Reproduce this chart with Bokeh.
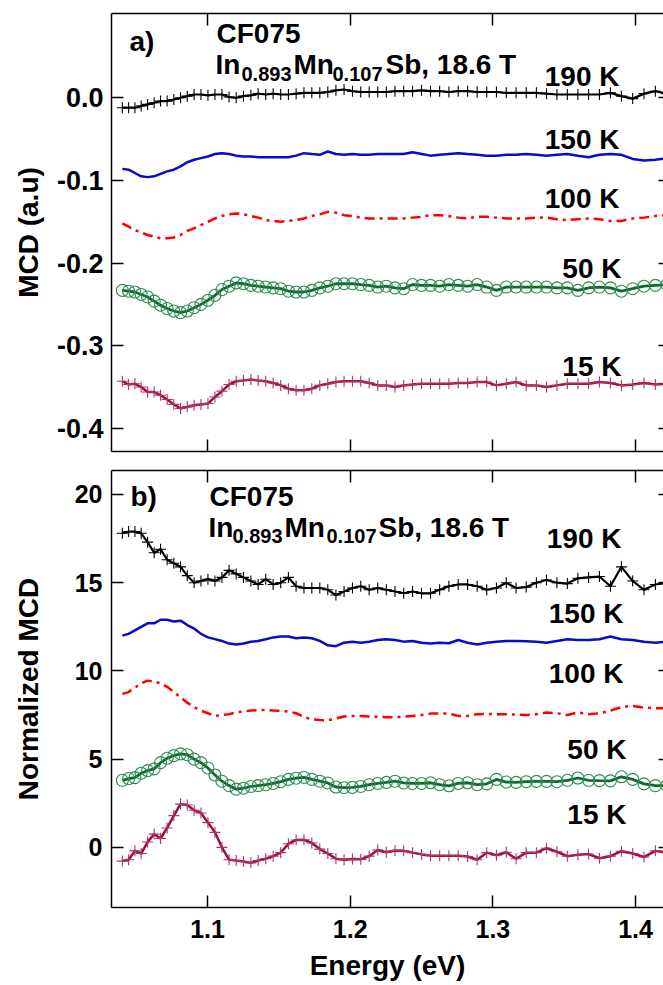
from bokeh.plotting import figure
from bokeh.models import (Range1d, LinearAxis, Label, FixedTicker, NumeralTickFormatter,
                          CustomLabelingPolicy)
from bokeh.layouts import column
from bokeh.embed import file_html
from bokeh.resources import INLINE

# ---------------- data ----------------
energy = [1.0403, 1.0447, 1.0491, 1.0535, 1.0580, 1.0626, 1.0671, 1.0717, 1.0764, 1.0811,
          1.0858, 1.0906, 1.0954, 1.1003, 1.1052, 1.1101, 1.1151, 1.1201, 1.1252, 1.1304,
          1.1355, 1.1408, 1.1460, 1.1513, 1.1567, 1.1621, 1.1676, 1.1731, 1.1787, 1.1843,
          1.1900, 1.1957, 1.2016, 1.2074, 1.2133, 1.2193, 1.2253, 1.2314, 1.2375, 1.2437,
          1.2500, 1.2563, 1.2627, 1.2692, 1.2757, 1.2823, 1.2890, 1.2957, 1.3025, 1.3094,
          1.3163, 1.3234, 1.3305, 1.3376, 1.3449, 1.3522, 1.3596, 1.3671, 1.3747, 1.3824,
          1.3901, 1.3980, 1.4059, 1.4139, 1.4220]

mcd_190 = [-0.012, -0.012, -0.012, -0.010, -0.008, -0.006, -0.004, -0.004, -0.002, 0.000,
           0.002, 0.004, 0.004, 0.003, 0.004, 0.004, 0.001, 0.000, 0.002, 0.003,
           0.005, 0.004, 0.005, 0.004, 0.004, 0.005, 0.006, 0.006, 0.006, 0.007,
           0.009, 0.010, 0.008, 0.007, 0.007, 0.007, 0.007, 0.008, 0.008, 0.008,
           0.009, 0.008, 0.008, 0.007, 0.008, 0.008, 0.007, 0.007, 0.007, 0.006,
           0.006, 0.006, 0.006, 0.005, 0.004, 0.004, 0.004, 0.004, 0.004, 0.006,
           0.002, -0.001, 0.005, 0.008, 0.005]
mcd_150 = [-0.086, -0.087, -0.091, -0.095, -0.096, -0.095, -0.092, -0.089, -0.087, -0.083,
           -0.078, -0.075, -0.073, -0.071, -0.068, -0.067, -0.068, -0.070, -0.071, -0.071,
           -0.072, -0.072, -0.072, -0.072, -0.072, -0.070, -0.067, -0.068, -0.069, -0.065,
           -0.068, -0.069, -0.068, -0.069, -0.069, -0.068, -0.068, -0.068, -0.068, -0.066,
           -0.068, -0.070, -0.069, -0.068, -0.067, -0.068, -0.069, -0.070, -0.070, -0.069,
           -0.069, -0.068, -0.069, -0.070, -0.069, -0.068, -0.070, -0.072, -0.069, -0.068,
           -0.069, -0.074, -0.076, -0.075, -0.073]
mcd_100 = [-0.152, -0.156, -0.160, -0.163, -0.166, -0.168, -0.170, -0.170, -0.169, -0.166,
           -0.161, -0.158, -0.154, -0.150, -0.146, -0.143, -0.141, -0.140, -0.141, -0.143,
           -0.145, -0.148, -0.149, -0.150, -0.149, -0.148, -0.146, -0.143, -0.141, -0.138,
           -0.139, -0.142, -0.143, -0.145, -0.146, -0.146, -0.146, -0.146, -0.146, -0.145,
           -0.144, -0.142, -0.142, -0.143, -0.145, -0.146, -0.144, -0.144, -0.145, -0.146,
           -0.146, -0.146, -0.145, -0.145, -0.147, -0.148, -0.147, -0.146, -0.147, -0.149,
           -0.149, -0.146, -0.145, -0.143, -0.142]
mcd_50 = [-0.233, -0.234, -0.235, -0.238, -0.241, -0.246, -0.251, -0.255, -0.258, -0.260,
          -0.258, -0.254, -0.250, -0.245, -0.239, -0.232, -0.228, -0.224, -0.225, -0.227,
          -0.228, -0.229, -0.230, -0.231, -0.234, -0.235, -0.235, -0.233, -0.230, -0.228,
          -0.225, -0.225, -0.225, -0.226, -0.227, -0.229, -0.228, -0.230, -0.231, -0.226,
          -0.227, -0.227, -0.228, -0.226, -0.227, -0.228, -0.226, -0.229, -0.233, -0.229,
          -0.229, -0.229, -0.229, -0.229, -0.230, -0.230, -0.233, -0.230, -0.229, -0.230,
          -0.234, -0.231, -0.228, -0.227, -0.226]
mcd_15 = [-0.343, -0.347, -0.346, -0.350, -0.356, -0.356, -0.360, -0.365, -0.371, -0.376,
          -0.374, -0.372, -0.371, -0.370, -0.362, -0.355, -0.347, -0.343, -0.342, -0.341,
          -0.342, -0.343, -0.345, -0.348, -0.352, -0.354, -0.354, -0.352, -0.348, -0.346,
          -0.344, -0.343, -0.343, -0.343, -0.345, -0.348, -0.348, -0.350, -0.348, -0.347,
          -0.346, -0.346, -0.346, -0.346, -0.345, -0.345, -0.344, -0.344, -0.348, -0.346,
          -0.344, -0.348, -0.348, -0.350, -0.348, -0.346, -0.346, -0.346, -0.344, -0.345,
          -0.348, -0.347, -0.345, -0.347, -0.346]

norm_190 = [17.8, 17.9, 17.9, 17.8, 17.3, 16.7, 16.9, 16.3, 16.1, 15.9,
            15.4, 15.0, 15.1, 15.2, 15.1, 15.3, 15.7, 15.5, 15.3, 15.1,
            14.9, 15.2, 14.9, 15.0, 15.3, 14.8, 14.7, 14.7, 14.7, 14.6,
            14.3, 14.5, 14.7, 14.8, 14.6, 14.7, 14.6, 14.5, 14.4, 14.5,
            14.4, 14.4, 14.6, 14.8, 14.9, 14.9, 14.8, 14.6, 14.7, 15.0,
            14.7, 14.75, 15.0, 15.15, 15.0, 14.95, 15.25, 15.3, 15.35, 14.8,
            15.9, 15.1, 14.6, 14.9, 15.0]
norm_150 = [12.0, 12.1, 12.3, 12.5, 12.7, 12.7, 12.9, 12.9, 12.8, 12.85,
            12.6, 12.4, 12.1, 11.9, 11.8, 11.7, 11.55, 11.5, 11.55, 11.65,
            11.7, 11.8, 11.9, 11.95, 11.95, 11.85, 11.9, 11.85, 11.7, 11.45,
            11.4, 11.6, 11.65, 11.6, 11.65, 11.75, 11.8, 11.75, 11.66, 11.7,
            11.6, 11.55, 11.6, 11.57, 11.75, 11.6, 11.5, 11.6, 11.65, 11.7,
            11.7, 11.68, 11.65, 11.6, 11.7, 11.8, 11.75, 11.75, 11.8, 11.95,
            11.8, 11.75, 11.65, 11.6, 11.65]
norm_100 = [8.7, 8.8, 9.05, 9.3, 9.45, 9.4, 9.3, 9.1, 8.8, 8.5,
            8.2, 7.95, 7.75, 7.6, 7.45, 7.5, 7.55, 7.65, 7.7, 7.75,
            7.78, 7.78, 7.76, 7.74, 7.7, 7.6, 7.4, 7.25, 7.22, 7.2,
            7.3, 7.42, 7.45, 7.45, 7.42, 7.4, 7.38, 7.38, 7.4, 7.45,
            7.5, 7.58, 7.58, 7.58, 7.45, 7.45, 7.55, 7.56, 7.55, 7.55,
            7.52, 7.5, 7.55, 7.64, 7.6, 7.5, 7.65, 7.55, 7.6, 7.75,
            7.95, 8.02, 7.92, 7.88, 7.88]
norm_50 = [3.8, 3.9, 3.95, 4.2, 4.35, 4.45, 4.8, 5.05, 5.2, 5.3,
           5.25, 5.0, 4.8, 4.5, 4.1, 3.75, 3.5, 3.3, 3.35, 3.45,
           3.5, 3.55, 3.62, 3.72, 3.85, 3.92, 3.96, 3.85, 3.75, 3.65,
           3.42, 3.38, 3.4, 3.45, 3.55, 3.62, 3.68, 3.75, 3.65, 3.62,
           3.62, 3.66, 3.55, 3.49, 3.62, 3.66, 3.55, 3.6, 3.85, 3.7,
           3.68, 3.72, 3.74, 3.74, 3.72, 3.8, 3.93, 3.8, 3.78, 3.77,
           4.0, 3.85, 3.6, 3.5, 3.5]
norm_15 = [-0.78, -0.7, -0.2, -0.35, 0.3, 0.75, 0.5, 1.1, 1.8, 2.45,
           2.4, 2.1, 1.95, 1.4, 0.85, 0.0, -0.7, -0.75, -0.8, -0.88,
           -0.75, -0.65, -0.5, -0.3, 0.2, 0.42, 0.43, 0.25, -0.1, -0.35,
           -0.65, -0.7, -0.66, -0.68, -0.5, -0.15, -0.28, -0.18, -0.2, -0.3,
           -0.4, -0.47, -0.47, -0.47, -0.48, -0.52, -0.7, -0.3, -0.45, -0.28,
           -0.65, -0.3, -0.3, -0.05, -0.25, -0.5, -0.42, -0.38, -0.62, -0.5,
           -0.22, -0.35, -0.55, -0.2, -0.3]

x_ticks = [1.1, 1.2, 1.3, 1.4]
top_ticks = [0.0, -0.1, -0.2, -0.3, -0.4]
bottom_ticks = [0, 5, 10, 15, 20]
temps = ["190 K", "150 K", "100 K", "50 K", "15 K"]
sample = "CF075"
formula = ["In", "0.893", "Mn", "0.107", "Sb, 18.6 T"]

# ---------------- layout / style ----------------
FONT = "Liberation Sans"
X0, X1 = 1.0327, 1.4196
FW = 552
TOP_Y = (-0.428, 0.102)
BOT_Y = (-3.41, 21.36)
LABEL_SHIFT = 9  # px correction for the text baseline

C_BLACK = "#000000"
C_BLUE = "#0a0ac8"
C_RED = "#ff0000"
C_GREEN = "#0b6b2e"
C_GREEN_M = "#2e8b50"
C_CRIM = "#9a0c48"
C_CRIM_M = "#b03366"


def style_axis(ax, ticks, fmt, size, labels=True, tick_in=12, line=True):
    ax.ticker = FixedTicker(ticks=ticks)
    ax.formatter = NumeralTickFormatter(format=fmt)
    ax.major_tick_in = tick_in
    ax.major_tick_out = 0
    ax.minor_tick_in = 0
    ax.minor_tick_out = 0
    ax.major_tick_line_width = 1.5
    ax.major_tick_line_color = "black"
    ax.axis_line_width = 1.5
    ax.axis_line_color = "black" if line else None
    ax.major_label_text_font = FONT
    ax.major_label_text_font_style = "bold"
    ax.major_label_text_color = "black"
    ax.major_label_text_font_size = f"{size}px"
    if not labels:
        ax.major_label_policy = CustomLabelingPolicy(code="return []")
        ax.major_label_standoff = 0
    ax.axis_label_text_font = FONT
    ax.axis_label_text_font_style = "bold"
    ax.axis_label_text_font_size = "28px"
    ax.axis_label_text_color = "black"


def make_fig(yr, fh, top, bottom, yticks, yfmt, ylabel, ysize, ystand, ylabstand, xlabels):
    p = figure(frame_width=FW, frame_height=fh, min_border_left=111, min_border_right=0,
               min_border_top=top, min_border_bottom=bottom,
               x_range=Range1d(X0, X1), y_range=Range1d(*yr),
               output_backend="svg", toolbar_location=None,
               x_axis_location=None, y_axis_location=None)
    p.grid.visible = False
    p.outline_line_color = None
    p.background_fill_color = "white"
    p.border_fill_color = "white"

    left = LinearAxis(axis_label=ylabel)
    style_axis(left, yticks, yfmt, ysize)
    left.major_label_standoff = ystand
    left.axis_label_standoff = ylabstand
    p.add_layout(left, "left")

    right = LinearAxis()
    style_axis(right, yticks, yfmt, 1, labels=False, tick_in=5, line=False)
    p.add_layout(right, "right")

    above = LinearAxis()
    style_axis(above, x_ticks, "0.0", 1, labels=False)
    p.add_layout(above, "above")

    below = LinearAxis(axis_label="Energy (eV)" if xlabels else None)
    style_axis(below, x_ticks, "0.0", 25 if xlabels else 1, labels=xlabels)
    if xlabels:
        below.major_label_standoff = 12
        below.axis_label_standoff = 9
    p.add_layout(below, "below")
    return p


def draw(p, ys):
    y190, y150, y100, y50, y15 = ys
    p.line(energy, y190, line_color=C_BLACK, line_width=2.2)
    p.scatter(energy, y190, marker="cross", size=11, line_color=C_BLACK, line_width=1.1)
    p.line(energy, y150, line_color=C_BLUE, line_width=2.5)
    p.line(energy, y100, line_color=C_RED, line_width=2.5, line_dash="10 5 3 5")
    p.line(energy, y50, line_color=C_GREEN, line_width=2.8)
    p.scatter(energy, y50, marker="circle", size=12, fill_color=None,
              line_color=C_GREEN_M, line_width=1.1)
    p.line(energy, y15, line_color=C_CRIM, line_width=2.5)
    p.scatter(energy, y15, marker="cross", size=11, line_color=C_CRIM_M, line_width=1.1)


def px2e(px):
    return X0 + (px - 111) / FW * (X1 - X0)


def add_labels(p, items, conv):
    for text, px, py, size, align in items:
        p.add_layout(Label(x=px2e(px), y=conv(py - LABEL_SHIFT), text=text, text_font=FONT,
                           text_font_style="bold", text_font_size=f"{size}px",
                           text_color="black", text_align=align,
                           text_baseline="alphabetic"))


# top panel: frame from y=13 to y=451
p1 = make_fig(TOP_Y, 438, 13, 10, top_ticks, "0.0", "MCD (a.u)", 27, 8, 10, False)
draw(p1, [mcd_190, mcd_150, mcd_100, mcd_50, mcd_15])


def conv_top(py):
    return TOP_Y[1] - (py - 13) / 438 * (TOP_Y[1] - TOP_Y[0])


add_labels(p1, [
    ("a)", 129, 50, 28, "left"),
    (sample, 216, 42, 28, "left"),
    (formula[0], 215, 73, 28, "left"),
    (formula[1], 241, 82, 20, "left"),
    (formula[2], 293, 73, 28, "left"),
    (formula[3], 332, 82, 20, "left"),
    (formula[4], 385, 73, 28, "left"),
    (temps[0], 619, 85, 28, "right"),
    (temps[1], 619, 148, 28, "right"),
    (temps[2], 619, 207, 28, "right"),
    (temps[3], 621, 277, 28, "right"),
    (temps[4], 621, 375, 28, "right"),
], conv_top)

# bottom panel: frame from y=470 to y=907
p2 = make_fig(BOT_Y, 437, 9, 78, bottom_ticks, "0", "Normalized MCD", 25, 9, 28, True)
draw(p2, [norm_190, norm_150, norm_100, norm_50, norm_15])


def conv_bot(py):
    return BOT_Y[1] - (py - 470) / 437 * (BOT_Y[1] - BOT_Y[0])


add_labels(p2, [
    ("b)", 130, 505, 28, "left"),
    (sample, 209, 505, 28, "left"),
    (formula[0], 208, 536, 28, "left"),
    (formula[1], 232, 544, 20, "left"),
    (formula[2], 284, 536, 28, "left"),
    (formula[3], 326, 544, 20, "left"),
    (formula[4], 378, 536, 28, "left"),
    (temps[0], 621, 547, 28, "right"),
    (temps[1], 623, 622, 28, "right"),
    (temps[2], 623, 682, 28, "right"),
    (temps[3], 626, 758, 28, "right"),
    (temps[4], 626, 823, 28, "right"),
], conv_bot)

layout = column(p1, p2, spacing=0)
open("out.html", "w").write(file_html(layout, INLINE))
